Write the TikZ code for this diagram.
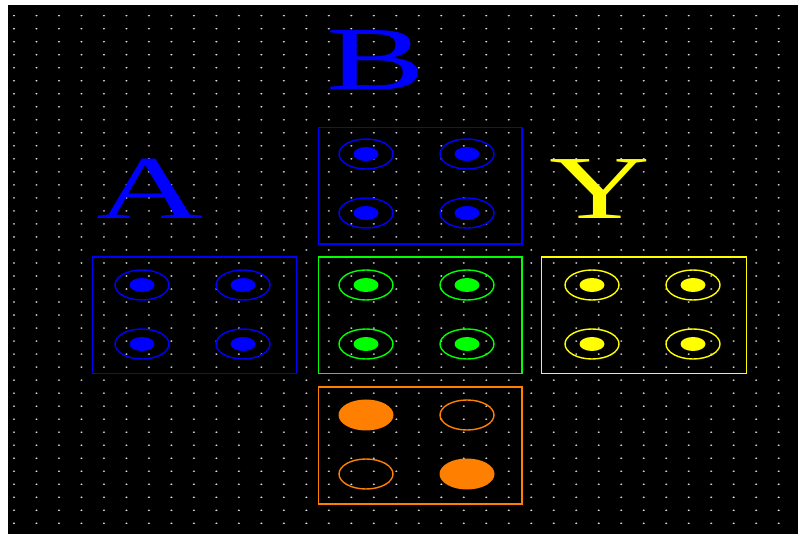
\documentclass[tikz,border=0pt]{standalone}
\usepackage{fontspec}
\newfontfamily\letterfont{Liberation Serif}
\definecolor{pblue}{RGB}{0,0,255}
\definecolor{pgreen}{RGB}{0,255,0}
\definecolor{pyellow}{RGB}{255,255,0}
\definecolor{porange}{RGB}{255,128,0}
\definecolor{pdot}{RGB}{225,225,225}
\tikzset{
  panel/.style={line width=1.8pt},
  ring/.style={line width=1.4pt},
  bigletter/.style={inner sep=0pt, font=\letterfont\fontsize{90}{90}\selectfont}
}
\begin{document}
\begin{tikzpicture}[x=1pt,y=-1pt]
\useasboundingbox (0,0) rectangle (798,534);
\fill[white] (0,0) rectangle (798,534);
\fill[black] (8,5) rectangle (798,534);
% dot grid
\foreach \i in {0,...,34}{
  \foreach \j in {0,...,39}{
    \fill[pdot] ({14+22.49*\i},{15.7+13.015*\j}) ellipse [x radius=1.2, y radius=0.8];
  }
}
% letters
\node[bigletter, text=pblue] (la) at (150,189) {\scalebox{1.65}[1]{A}};
\node[bigletter, text=pblue] (lb) at (376,60) {\scalebox{1.65}[1]{B}};
\node[bigletter, text=pyellow] (ly) at (600,189) {\scalebox{1.55}[1]{Y}};
% B panel
\draw[panel, pblue] (318.5,127.5) rectangle (522,244);
\foreach \cx in {366,467}{\foreach \cy in {154,213}{
  \draw[ring, pblue] (\cx,\cy) ellipse [x radius=27, y radius=15];
  \fill[pblue] (\cx,\cy) ellipse [x radius=12.5, y radius=7];
}}
% A panel
\draw[panel, pblue] (92.5,257) rectangle (296.5,373.5);
\foreach \cx in {142,243}{\foreach \cy in {285,344}{
  \draw[ring, pblue] (\cx,\cy) ellipse [x radius=27, y radius=15];
  \fill[pblue] (\cx,\cy) ellipse [x radius=12.5, y radius=7];
}}
% green panel
\draw[panel, pgreen] (318.5,257) rectangle (522,373.5);
\foreach \cx in {366,467}{\foreach \cy in {285,344}{
  \draw[ring, pgreen] (\cx,\cy) ellipse [x radius=27, y radius=15];
  \fill[pgreen] (\cx,\cy) ellipse [x radius=12.5, y radius=7];
}}
% yellow panel
\draw[panel, pyellow] (541.5,257) rectangle (746.5,373.5);
\foreach \cx in {592,693}{\foreach \cy in {285,344}{
  \draw[ring, pyellow] (\cx,\cy) ellipse [x radius=27, y radius=15];
  \fill[pyellow] (\cx,\cy) ellipse [x radius=12.5, y radius=7];
}}
% orange panel
\draw[panel, porange] (318.5,387) rectangle (522,504);
\fill[porange] (366,415) ellipse [x radius=27.5, y radius=15.5];
\draw[ring, porange] (467,415) ellipse [x radius=27, y radius=15];
\draw[ring, porange] (366,474) ellipse [x radius=27, y radius=15];
\fill[porange] (467,474) ellipse [x radius=27.5, y radius=15.5];
\end{tikzpicture}
\end{document}
